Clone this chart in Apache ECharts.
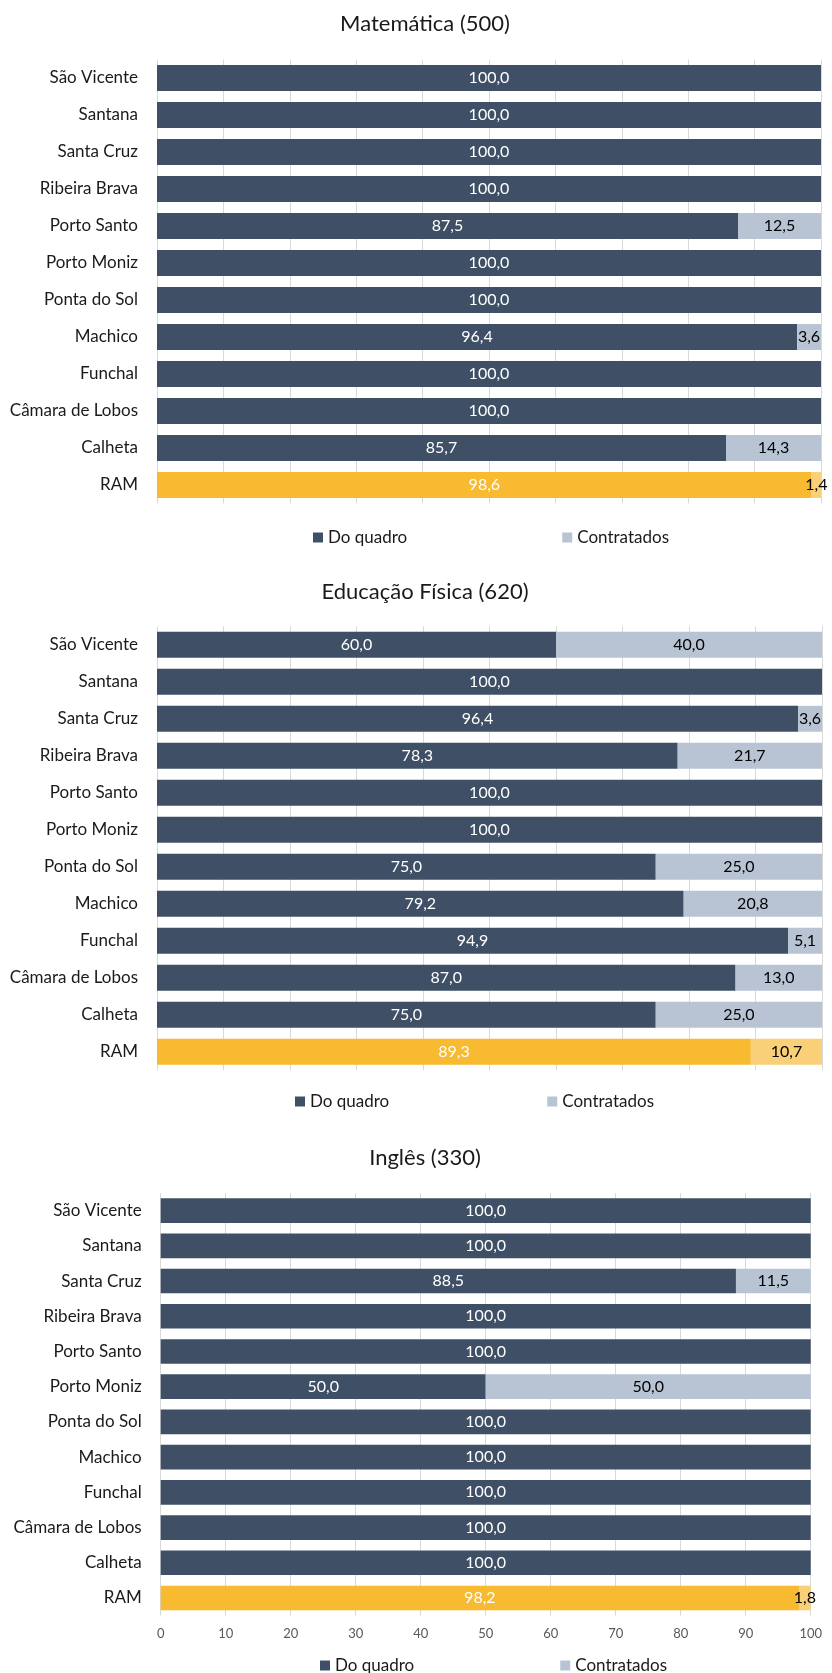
<!DOCTYPE html>
<html>
<head>
<meta charset="utf-8">
<title>Docentes do quadro e contratados</title>
<script src="https://cdn.jsdelivr.net/npm/echarts@6/dist/echarts.min.js"></script>
<style>
  html, body { margin: 0; padding: 0; background: #fff; }
  #chart { width: 832px; height: 1673px; }
</style>
</head>
<body>
<div id="chart"></div>
<script>
// categorias (de cima para baixo)
var categories = ["São Vicente", "Santana", "Santa Cruz", "Ribeira Brava", "Porto Santo", "Porto Moniz",
  "Ponta do Sol", "Machico", "Funchal", "Câmara de Lobos", "Calheta", "RAM"];
var seriesNames = ["Do quadro", "Contratados"];
var titles = ["Matemática (500)", "Educação Física (620)", "Inglês (330)"];
var xTicks = [0, 10, 20, 30, 40, 50, 60, 70, 80, 90, 100];

// Matemática
var matQuadro = [100, 100, 100, 100, 87.5, 100, 100, 96.4, 100, 100, 85.7, 98.6];
var matContratados = [0, 0, 0, 0, 12.5, 0, 0, 3.6, 0, 0, 14.3, 1.4];
// Educação Física
var efQuadro = [60, 100, 96.4, 78.3, 100, 100, 75, 79.2, 94.9, 87, 75, 89.3];
var efContratados = [40, 0, 3.6, 21.7, 0, 0, 25, 20.8, 5.1, 13, 25, 10.7];
// Inglês
var ingQuadro = [100, 100, 88.5, 100, 100, 50, 100, 100, 100, 100, 100, 98.2];
var ingContratados = [0, 0, 11.5, 0, 0, 50, 0, 0, 0, 0, 0, 1.8];

var panels = [
  [matQuadro, matContratados],
  [efQuadro, efContratados],
  [ingQuadro, ingContratados]
];

var FONT = "Lato, 'Noto Sans', sans-serif";
var DARK = "#3f5066", LIGHT = "#b8c4d3";
var ORANGE = "#f7ba31", ORANGE_LIGHT = "#f9d077";

// posição de cada painel: grelha, título e legenda
var layout = [
  { grid: { left: 157, width: 664, top: 59.5, height: 444 }, titleTop: 8, legendLeft: 308, legendTop: 524, legendGap: 155 },
  { grid: { left: 157, width: 665, top: 626.3, height: 444 }, titleTop: 576, legendLeft: 290, legendTop: 1088, legendGap: 158 },
  { grid: { left: 160.7, width: 650, top: 1193, height: 422.6 }, titleTop: 1142, legendLeft: 315, legendTop: 1652, legendGap: 146 }
];

function fmt(v) {
  return v > 0 ? v.toFixed(1).replace(".", ",") : "";
}

var option = {
  animation: false,
  textStyle: { fontFamily: FONT },
  title: [], legend: [], grid: [], xAxis: [], yAxis: [], series: []
};

layout.forEach(function (l, i) {
  option.title.push({
    text: titles[i], left: 420, top: l.titleTop, textAlign: "center",
    textStyle: { fontFamily: FONT, fontSize: 22, fontWeight: "normal", color: "#1a1a1a" }
  });
  option.legend.push({
    data: seriesNames, left: l.legendLeft, top: l.legendTop, itemGap: l.legendGap,
    icon: "rect", itemWidth: 10, itemHeight: 10,
    textStyle: { fontFamily: FONT, fontSize: 17, color: "#1a1a1a" }
  });
  option.grid.push(l.grid);
  option.xAxis.push({
    type: "value", gridIndex: i, min: 0, max: 100, interval: 10,
    axisLine: { show: false }, axisTick: { show: false },
    axisLabel: { show: i === 2, margin: 12, fontFamily: FONT, fontSize: 13, color: "#595959" },
    splitLine: { lineStyle: { color: "#d9d9d9", width: 1 } }
  });
  option.yAxis.push({
    type: "category", gridIndex: i, data: categories, inverse: true,
    axisLine: { show: false }, axisTick: { show: false },
    axisLabel: { margin: 19, fontFamily: FONT, fontSize: 17, color: "#1a1a1a" }
  });

  // duas séries empilhadas por painel; RAM a laranja
  panels[i].forEach(function (values, s) {
    option.series.push({
      name: seriesNames[s], type: "bar", stack: "p" + i,
      xAxisIndex: i, yAxisIndex: i, barCategoryGap: "30%",
      itemStyle: { color: s === 0 ? DARK : LIGHT },
      label: {
        show: true, position: "inside", formatter: function (p) { return fmt(p.value); },
        fontFamily: FONT, fontSize: 16, color: s === 0 ? "#ffffff" : "#000000"
      },
      data: values.map(function (v, k) {
        if (categories[k] === "RAM") {
          return { value: v, itemStyle: { color: s === 0 ? ORANGE : ORANGE_LIGHT } };
        }
        return v;
      })
    });
  });
});

var myChart = echarts.init(document.getElementById("chart"), null, { renderer: "canvas" });
myChart.setOption(option);
</script>
</body>
</html>
